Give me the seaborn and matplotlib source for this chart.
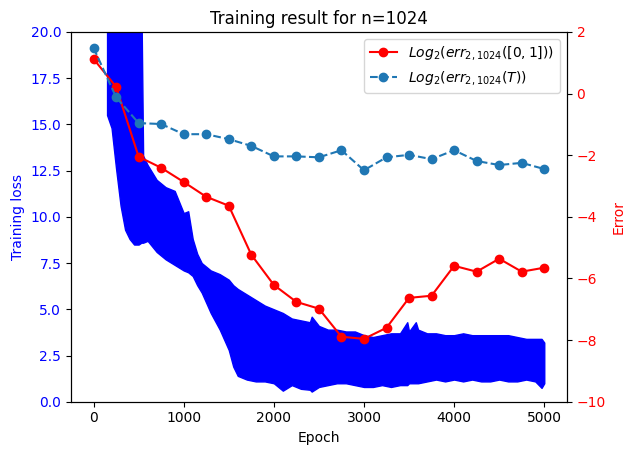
import numpy as np
import pandas as pd
import matplotlib
matplotlib.use('Agg')
import matplotlib.pyplot as plt
import seaborn as sns

# error checkpoints (every 250 epochs), log2 scale
err_epochs = [0, 250, 500, 750, 1000, 1250, 1500, 1750, 2000, 2250, 2500,
              2750, 3000, 3250, 3500, 3750, 4000, 4250, 4500, 4750, 5000]
err_interval = [1.12, 0.22, -2.05, -2.41, -2.87, -3.35, -3.64, -5.23, -6.21, -6.76, -6.98,
                -7.89, -7.96, -7.60, -6.63, -6.56, -5.59, -5.78, -5.36, -5.78, -5.65]
err_T = [1.48, -0.12, -0.96, -0.99, -1.32, -1.32, -1.48, -1.70, -2.04, -2.04, -2.07,
         -1.84, -2.49, -2.07, -1.99, -2.13, -1.84, -2.19, -2.32, -2.25, -2.45]

# training loss: lower / upper envelope of the noisy curve
loss_epochs = [150, 200, 250, 300, 350, 400, 450, 500, 530, 550, 600, 700, 800, 900, 1000,
               1050, 1100, 1150, 1200, 1300, 1400, 1500, 1550, 1600, 1700, 1800, 1900, 2000,
               2100, 2200, 2300, 2400, 2420, 2500, 2600, 2700, 2800, 2900, 3000, 3100, 3200,
               3300, 3400, 3480, 3500, 3575, 3600, 3700, 3800, 3900, 4000, 4100, 4200, 4300,
               4400, 4500, 4600, 4700, 4800, 4900, 4970, 5000]
loss_low = [15.5, 14.8, 12.6, 10.6, 9.3, 8.8, 8.5, 8.5, 8.6, 8.6, 8.7, 8.1, 7.7, 7.4, 7.1,
            7.0, 6.8, 6.3, 5.9, 4.8, 3.9, 2.8, 1.9, 1.4, 1.2, 1.1, 1.1, 1.0,
            0.6, 0.9, 0.7, 0.65, 0.55, 0.8, 0.9, 1.0, 1.0, 0.9, 0.8, 0.8, 0.9,
            0.8, 0.9, 0.9, 1.0, 1.0, 1.0, 1.1, 1.2, 1.1, 1.2, 1.1, 1.2, 1.1,
            1.1, 1.2, 1.1, 1.1, 1.2, 1.1, 0.75, 1.0]
loss_high = [25, 25, 25, 25, 25, 25, 25, 25, 22, 13.3, 12.8, 12.0, 11.6, 11.4, 10.2,
             10.3, 8.8, 8.0, 7.5, 7.1, 6.9, 6.6, 6.3, 6.1, 5.8, 5.5, 5.2, 5.0,
             4.8, 4.5, 4.4, 4.3, 4.6, 4.1, 3.9, 3.9, 3.8, 3.8, 3.6, 3.5, 3.6,
             3.7, 3.7, 4.3, 3.8, 4.3, 3.9, 3.7, 3.7, 3.6, 3.6, 3.7, 3.6, 3.6,
             3.6, 3.6, 3.6, 3.5, 3.4, 3.4, 3.4, 3.2]

fig, ax1 = plt.subplots(figsize=(6.34, 4.55), dpi=100)
fig.subplots_adjust(left=0.112, right=0.894, bottom=0.117, top=0.93)

ax1.fill_between(loss_epochs, loss_low, loss_high, color='blue', linewidth=1)
ax1.set_xlim(-250, 5250)
ax1.set_ylim(0, 20)
ax1.set_xlabel('Epoch')
ax1.set_ylabel('Training loss', color='blue')
ax1.tick_params(axis='y', labelcolor='blue')

ax2 = ax1.twinx()
sns.lineplot(x=err_epochs, y=err_interval, ax=ax2, color='red', marker='o',
             markersize=6, markeredgecolor='red', markeredgewidth=1,
             label=r'$Log_2(err_{2,1024}([0,1]))$')
sns.lineplot(x=err_epochs, y=err_T, ax=ax2, color='tab:blue', marker='o', linestyle='--',
             markersize=6, markeredgecolor='tab:blue', markeredgewidth=1,
             label=r'$Log_2(err_{2,1024}(T))$')
ax2.set_ylim(-10, 2)
ax2.set_ylabel('Error', color='red')
ax2.tick_params(axis='y', labelcolor='red')
ax2.legend(loc='upper right')

ax1.set_title('Training result for n=1024')
fig.savefig('out.png', dpi=100)
